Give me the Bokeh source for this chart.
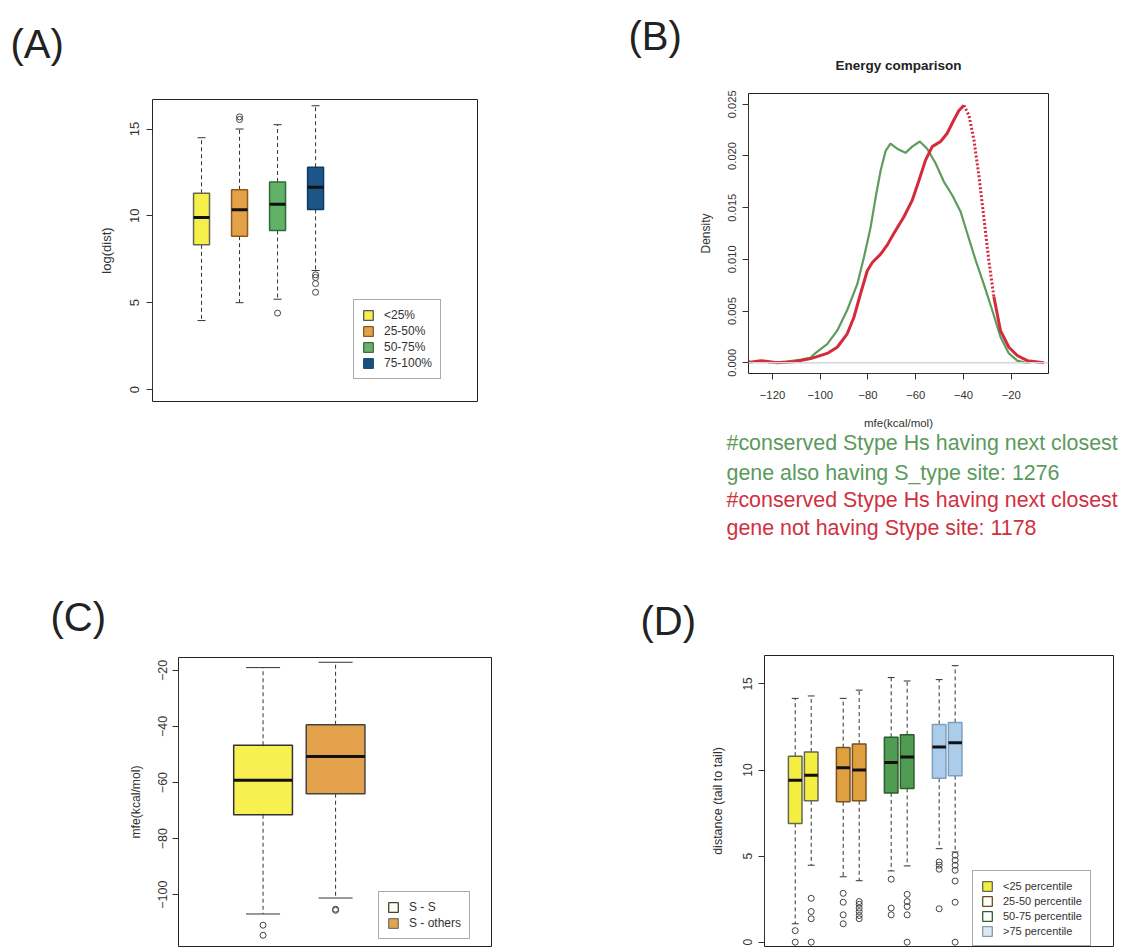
import numpy as np
from bokeh.plotting import figure
from bokeh.models import (Range1d, Legend, LegendItem, Title, FixedTicker, Span,
                          PrintfTickFormatter, ColumnDataSource)
from bokeh.layouts import column, row
from bokeh.embed import file_html
from bokeh.resources import INLINE

FONT = "Liberation Sans"

# ---------------- Panel A data ----------------
a_groups = ["<25%", "25-50%", "50-75%", "75-100%"]
a_low = [3.97, 5.0, 5.2, 6.85]
a_q1 = [8.33, 8.83, 9.16, 10.37]
a_med = [9.9, 10.35, 10.67, 11.65]
a_q3 = [11.3, 11.5, 11.95, 12.8]
a_high = [14.5, 15.0, 15.25, 16.34]
a_outliers = [[], [15.55, 15.7], [4.4], [6.6, 6.45, 6.1, 5.6]]
a_yticks = [0, 5, 10, 15]

# ---------------- Panel B data ----------------
green_x = [-122, -114, -108, -104, -102.7, -97.1, -92.9, -88.7, -84.5, -81.7, -78.9,
           -76.8, -74.7, -72.6, -70.6, -67.8, -64.3, -61.5, -58.3, -55.2, -51.7, -48.2,
           -44.7, -41.2, -38.4, -34.9, -31.5, -28.0, -24.5, -21.0, -17.5, -14.7, -12.0]
green_y = [0.0, 0.0001, 0.0003, 0.0005, 0.0008, 0.0018, 0.0031, 0.0051, 0.0076, 0.0102,
           0.0131, 0.0160, 0.0186, 0.0205, 0.0212, 0.0207, 0.0203, 0.0209, 0.0214, 0.0207,
           0.0193, 0.0175, 0.0162, 0.0146, 0.0125, 0.0099, 0.0076, 0.0051, 0.0025, 0.0009,
           0.0002, 0.00003, 0.0]
red_x = [-130.0, -129.2, -125.0, -118.0, -111.0, -104.0, -97.1, -92.9, -88.7, -85.9,
         -83.1, -80.3, -78.2, -74.7, -71.9, -69.2, -65.0, -61.5, -58.7, -55.9, -53.1,
         -49.6, -46.8, -44.0, -41.9, -39.8, -37.7, -35.6, -33.5, -31.5, -29.4, -27.3,
         -24.5, -21.0, -17.5, -13.3, -6.3]
red_y = [0.0001, 0.00006, 0.0002, 0.0, 0.0001, 0.0004, 0.0009, 0.0015, 0.0028, 0.0044,
         0.0067, 0.0089, 0.0097, 0.0105, 0.0114, 0.0125, 0.0141, 0.0157, 0.0176, 0.0196,
         0.0209, 0.0214, 0.0222, 0.0235, 0.0244, 0.0249, 0.0239, 0.0215, 0.0180, 0.0141,
         0.0099, 0.0064, 0.0031, 0.0015, 0.0007, 0.0002, 0.0]
b_xticks = [-120, -100, -80, -60, -40, -20]
b_yticks = [0.0, 0.005, 0.010, 0.015, 0.020, 0.025]
b_title = "Energy comparison"
b_text = ["#conserved Stype Hs having next closest",
          "gene also having S_type site: 1276",
          "#conserved Stype Hs having next closest",
          "gene not having Stype site: 1178"]

# ---------------- Panel C data ----------------
c_groups = ["S - S", "S - others"]
c_low = [-106.9, -101.2]
c_q1 = [-71.5, -64.0]
c_med = [-59.2, -50.7]
c_q3 = [-46.7, -39.4]
c_high = [-19.0, -17.1]
c_outliers = [[-110.9, -114.5], [-105.6, -105.2]]
c_yticks = [-100, -80, -60, -40, -20]

# ---------------- Panel D data ----------------
d_groups = ["<25 percentile", "25-50 percentile", "50-75 percentile", ">75 percentile"]
d_low = [1.07, 4.47, 3.8, 3.57, 4.14, 4.43, 5.43, 5.24]
d_q1 = [6.9, 8.21, 8.15, 8.21, 8.67, 8.93, 9.52, 9.67]
d_med = [9.4, 9.69, 10.13, 10.0, 10.44, 10.76, 11.34, 11.59]
d_q3 = [10.8, 11.05, 11.3, 11.51, 11.9, 12.05, 12.65, 12.76]
d_high = [14.16, 14.3, 14.16, 14.64, 15.37, 15.17, 15.25, 16.06]
d_outliers = [[0.67, 0.0],
              [2.55, 1.78, 1.36, 0.0],
              [2.84, 2.32, 1.59, 1.07],
              [2.36, 2.2, 1.98, 1.78, 1.55, 1.36],
              [3.66, 1.98, 1.59],
              [2.78, 2.36, 2.07, 1.59, 0.0],
              [4.66, 4.47, 4.24, 1.94],
              [5.05, 4.76, 4.47, 4.18, 3.55, 2.32, 0.0]]
d_yticks = [0, 5, 10, 15]


def mkfig(w, h, left, right, top, bottom, xr, yr, x_axis=False):
    p = figure(width=w, height=h, x_range=Range1d(*xr), y_range=Range1d(*yr),
               output_backend="svg", toolbar_location=None, tools="",
               x_axis_location="below" if x_axis else None,
               min_border_left=left, min_border_right=right,
               min_border_top=top, min_border_bottom=bottom)
    p.grid.visible = False
    p.outline_line_color = "#222222"
    p.outline_line_width = 1
    p.background_fill_color = "white"
    p.border_fill_color = "white"
    return p


def style_axis(ax, ticks, label, tick_size, label_size, standoff, label_standoff,
               vertical=False, fmt=None):
    ax.ticker = FixedTicker(ticks=ticks)
    ax.bounds = (ticks[0], ticks[-1])
    ax.axis_label = label
    ax.axis_line_color = "#333333"
    ax.major_tick_line_color = "#333333"
    ax.major_tick_out = 6
    ax.major_tick_in = 0
    ax.minor_tick_out = 0
    ax.minor_tick_in = 0
    ax.major_label_text_font = FONT
    ax.major_label_text_font_size = tick_size
    ax.major_label_text_color = "#333333"
    ax.axis_label_text_font = FONT
    ax.axis_label_text_font_size = label_size
    ax.axis_label_text_font_style = "normal"
    ax.axis_label_text_color = "#333333"
    ax.major_label_standoff = int(standoff)
    ax.axis_label_standoff = int(label_standoff)
    if vertical:
        ax.major_label_orientation = "vertical"
    if fmt is not None:
        ax.formatter = fmt


def draw_boxes(p, pos, low, q1, med, q3, high, outliers, w, fills, lines, cap=0.5):
    pos = np.asarray(pos, dtype=float)
    p.segment(x0=pos, y0=q3, x1=pos, y1=high, line_color="#333333", line_dash="4 3", line_width=1)
    p.segment(x0=pos, y0=q1, x1=pos, y1=low, line_color="#333333", line_dash="4 3", line_width=1)
    p.segment(x0=pos - w * cap / 2, y0=high, x1=pos + w * cap / 2, y1=high, line_color="#333333", line_width=1)
    p.segment(x0=pos - w * cap / 2, y0=low, x1=pos + w * cap / 2, y1=low, line_color="#333333", line_width=1)
    src = ColumnDataSource(dict(x=pos, b=q1, t=q3, f=fills, l=lines))
    p.vbar(x="x", bottom="b", top="t", width=w, fill_color="f", line_color="l", line_width=1.5, source=src)
    p.segment(x0=pos - w / 2, y0=med, x1=pos + w / 2, y1=med, line_color="#111111", line_width=3)
    ox, oy = [], []
    for xi, vals in zip(pos, outliers):
        ox += [xi] * len(vals)
        oy += list(vals)
    p.scatter(x=ox, y=oy, marker="circle", size=6, fill_color=None, line_color="#444444", line_width=1)


def add_title(p, text, place, size, standoff, offset=0, align="left", color="#222222",
              style="normal"):
    p.add_layout(Title(text=text, align=align, offset=offset, standoff=standoff,
                       text_font=FONT, text_font_size=size, text_color=color,
                       text_font_style=style), place)


def add_legend(p, labels, fills, lines, loc, size="11px", standoff=10):
    items = []
    for lab, f, l in zip(labels, fills, lines):
        # legend swatch only: a single NaN row so nothing is drawn in the plot area
        r = p.vbar(x=[np.nan], top=[np.nan], bottom=[np.nan], width=0.1,
                   fill_color=f, line_color=l, line_width=1.3)
        items.append(LegendItem(label=lab, renderers=[r]))
    lg = Legend(items=items, location=loc)
    lg.label_text_font = FONT
    lg.label_text_font_size = size
    lg.label_text_color = "#333333"
    lg.glyph_width = 12
    lg.glyph_height = 12
    lg.label_height = 13
    lg.spacing = 2
    lg.padding = 8
    lg.margin = 0
    lg.label_standoff = standoff
    lg.border_line_color = "#555555"
    lg.border_line_width = 1
    lg.background_fill_color = "white"
    lg.background_fill_alpha = 1
    p.add_layout(lg, "center")


# ---------------- Panel A ----------------
pA = mkfig(592, 570, 152, 115, 99, 169, (-0.29, 8.26), (-0.69, 16.7))
a_pos = np.arange(1, len(a_groups) + 1)
a_fill = ["#f6ef4a", "#e3a148", "#63b067", "#1c5588"]
a_line = ["#666655", "#8b5a1e", "#2f6b35", "#0f3a66"]
draw_boxes(pA, a_pos, a_low, a_q1, a_med, a_q3, a_high, a_outliers, 0.42, a_fill, a_line)
style_axis(pA.yaxis[0], a_yticks, "log(dist)", "13px", "13px", 7, 14, vertical=True)
add_legend(pA, a_groups, ["#f6ef50", "#e3a04a", "#6ab06a", "#1b4f7c"],
           ["#555555", "#8a5a20", "#3c6e3c", "#1b4f7c"], (201, 22), size="12px")
# blank spacer line between the frame and the panel letter
add_title(pA, " ", "above", "10px", 21)
add_title(pA, "(A)", "above", "40px", 0, offset=-142)

# ---------------- Panel B ----------------
pB = mkfig(528, 570, 156, 72, 93, 197, (-130.05, -4.4), (-0.00104, 0.02604), x_axis=True)
pB.add_layout(Span(location=0, dimension="width", line_color="#d6d6d6", line_width=1.5))
pB.line(green_x, green_y, line_color="#5d9c5d", line_width=2.2)
rx = np.asarray(red_x)
ry = np.asarray(red_y)
steep = (rx >= -39.8) & (rx <= -27.3)
pre = rx <= -39.8
post = rx >= -27.3
pB.line(rx[pre], ry[pre], line_color="#d42a3c", line_width=3)
pB.line(rx[steep], ry[steep], line_color="#d42a3c", line_width=3, line_dash="2 2")
pB.line(rx[post], ry[post], line_color="#d42a3c", line_width=3)
style_axis(pB.yaxis[0], b_yticks, "Density", "11.2px", "12px", 6, 13, vertical=True,
           fmt=PrintfTickFormatter(format="%.3f"))
style_axis(pB.xaxis[0], b_xticks, "mfe(kcal/mol)", "11.3px", "11.5px", 11, 15)
add_title(pB, b_title, "above", "13.5px", 42, align="center", style="bold")
add_title(pB, "(B)", "above", "40px", -46, offset=-120)
b_colors = ["#5a9a5c", "#5a9a5c", "#d03040", "#d03040"]
b_standoffs = [-5, 12, -9, 12]
for t, c, s in zip(b_text, b_colors, b_standoffs):
    add_title(pB, t, "below", "21.4px", s, offset=-22, color=c)

# ---------------- Panel C ----------------
pC = mkfig(592, 380, 178, 101, 87, 4, (-0.166, 4.15), (-118.5, -15.4))
c_pos = np.arange(1, len(c_groups) + 1)
draw_boxes(pC, c_pos, c_low, c_q1, c_med, c_q3, c_high, c_outliers, 0.81,
           ["#f8f050", "#e2a14a"], ["#333333", "#444444"], cap=0.58)
style_axis(pC.yaxis[0], c_yticks, "mfe(kcal/mol)", "12.5px", "12.2px", 5, 13, vertical=True)
add_legend(pC, c_groups, ["#fdfdf6", "#e3a24c"], ["#444433", "#777766"], (200, 7), size="12px")
add_title(pC, "(C)", "above", "40px", 38, offset=-128)

# ---------------- Panel D ----------------
pD = mkfig(528, 380, 172, 7, 85, 4, (-0.92, 20.9), (-0.25, 16.65))
pair_base = np.arange(len(d_groups)) * 3 + 1
d_pos = np.ravel(np.column_stack([pair_base, pair_base + 1]))
d_fill_g = ["#f4ee40", "#e0a040", "#4f9c52", "#abcde9"]
d_line_g = ["#666655", "#7a5020", "#2a5e2a", "#7f9fbf"]
d_fill = [c for c in d_fill_g for _ in range(2)]
d_line = [c for c in d_line_g for _ in range(2)]
draw_boxes(pD, d_pos, d_low, d_q1, d_med, d_q3, d_high, d_outliers, 0.85, d_fill, d_line)
style_axis(pD.yaxis[0], d_yticks, "distance (tail to tail)", "12px", "12.5px", 6, 16, vertical=True)
add_legend(pD, d_groups, ["#f4ee40", "#ffffff", "#ffffff", "#dce8f4"],
           ["#666655", "#6b4a1f", "#2f5f2f", "#8899aa"], (208, 0), size="11px")
add_title(pD, "(D)", "above", "40px", 26, offset=-124)

layout = column(row(column(pA), column(pB)), row(column(pC), column(pD)))
open("out.html", "w").write(file_html(layout, INLINE))
